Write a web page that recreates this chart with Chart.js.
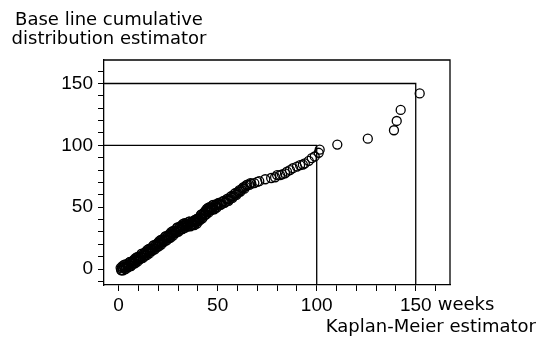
<!DOCTYPE html>
<html>
<head>
<meta charset="utf-8">
<script src="https://cdn.jsdelivr.net/npm/chart.js@4.4.1/dist/chart.umd.min.js"></script>
<style>
  html, body { margin: 0; padding: 0; background: #fff; }
  #wrap { width: 554px; height: 343px; }
</style>
</head>
<body>
<div id="wrap"><canvas id="kmChart" width="554" height="343"></canvas></div>
<script>
// Kaplan-Meier estimate (weeks) vs. base line cumulative distribution estimate
const kmWeeks = [
  1, 1.5, 2, 2.5, 3, 3.5, 4, 4.5, 5, 5.5, 6, 6.5, 7, 7.5, 8, 8.5, 9, 9.5, 10, 10.5,
  11, 11.5, 12, 12.5, 13, 13.5, 14, 14.5, 15, 15.5, 16, 16.5, 17, 17.5, 18, 18.5, 19, 19.5, 20, 20.5,
  21, 21.5, 22, 22.5, 23, 23.5, 24, 24.5, 25, 25.5, 26, 26.5, 27, 27.5, 28, 28.5, 29, 29.5, 30, 30.5,
  31, 31.5, 32, 32.5, 33, 33.5, 34, 34.5, 35, 35.5, 36, 36.5, 37, 37.5, 38, 38.5, 39, 39.5, 40, 40.5,
  41, 41.5, 42, 42.5, 43, 43.5, 44, 44.5, 45, 45.5, 46, 46.5, 47, 47.5, 48, 48.5, 49, 49.5, 50,
  51, 52, 53, 54, 55, 56, 57, 58, 59, 60, 61, 62, 63, 64, 65, 66, 67, 68.5, 70,
  71, 74, 77, 79, 80, 81.5, 82.5, 84, 85, 86.5, 88, 90, 91.6, 93, 94, 96, 97.5, 99, 101, 101.5,
  110.4, 125.8, 139, 140.4, 142.4, 152,
  1.25, 1.75, 2.25, 2.75, 3.25, 3.75, 4.25, 4.75, 5.25, 5.75, 6.25, 6.75, 7.25, 7.75, 8.25, 8.75,
  9.25, 9.75, 10.25, 10.75, 11.25, 11.75, 12.25, 12.75, 13.25, 13.75, 14.25, 14.75, 15.25, 15.75,
  16.25, 16.75, 17.25, 17.75, 18.25, 18.75, 19.25, 19.75, 20.25, 20.75, 21.25, 21.75, 22.25, 22.75,
  23.25, 23.75, 24.25, 24.75, 25.25, 25.75, 26.25, 26.75, 27.25, 27.75, 28.25, 28.75, 29.25, 29.75,
  30.25, 30.75, 31.25, 31.75, 32.25, 32.75, 33.25, 33.75, 34.25, 34.75, 35.25, 35.75, 36.25, 36.75,
  37.25, 37.75, 38.25, 38.75, 39.25, 39.75, 40.25, 40.75, 41.25, 41.75, 42.25, 42.75, 43.25, 43.75,
  44.25, 44.75, 45.25, 45.75, 46.25, 46.75, 47.25, 47.75, 48.25, 48.75, 49.25, 49.75,
  50.5, 51.5, 52.5, 53.5, 54.5, 55.5, 56.5, 57.5, 58.5, 59.5, 60.5, 61.5, 62.5, 63.5, 64.5, 66.5
];
const baselineCum = [
  1, -1, 1.3, 3.1, 1, 0, 3.8, 2.6, 2, 5.6, 2.6, 5.2, 6.2, 4.3, 6.8, 8.9, 6.9, 6, 10, 9.1,
  8.6, 12.2, 9.2, 11.8, 12.8, 10.9, 13.4, 15.5, 13.5, 12.6, 16.7, 15.8, 15.4, 19, 16.1, 18.7, 19.8, 17.9, 20.5, 22.6,
  20.7, 19.8, 23.9, 23, 22.6, 26.2, 23.3, 25.9, 27, 25.1, 27.7, 29.8, 27.9, 27, 31.1, 30.2, 29.8, 33.4, 30.5, 33,
  34, 32, 34.5, 36.5, 34.5, 33.3, 37, 35.8, 35, 38.3, 35, 37.3, 38, 35.8, 38, 39.8, 37.5, 36.8, 41, 40.3,
  40, 43.8, 41, 43.9, 45.3, 43.6, 46.5, 48.6, 46.8, 45.9, 50, 48.9, 48.3, 51.6, 48.5, 50.9, 51.8, 49.6, 52,
  53, 52.5, 55, 54.3, 57, 56.6, 59.2, 59, 61.5, 61.3, 63.8, 64, 66.2, 66.7, 68.3, 68, 69, 69.5, 70.5,
  71, 72.6, 73.6, 74.2, 76, 76, 76.5, 77.4, 78.7, 80, 81.5, 82.8, 84, 84.5, 85.5, 87.5, 89.6, 91, 94, 96.5,
  100.6, 105.4, 112.2, 119.7, 128.6, 142,
  -0.8, 2.1, -1, 1.8, 3.7, 1.6, 3.4, 1.3, 3.3, 5.8, 2.4, 5.9, 4.5, 7.5, 4.6, 7.6,
  9.7, 7.7, 9.8, 7.8, 9.9, 12.4, 9, 12.5, 11.1, 14.1, 11.2, 14.2, 16.3, 14.4,
  16.5, 14.6, 16.7, 19.3, 15.9, 19.5, 18.1, 21.2, 18.3, 21.4, 23.5, 21.6, 23.7, 21.8,
  23.9, 26.5, 23.1, 26.7, 25.3, 28.4, 25.5, 28.6, 30.7, 28.8, 30.9, 29, 31.1, 33.7,
  30.3, 33.8, 32.3, 35.3, 32.3, 35.3, 37.1, 34.9, 36.6, 34.4, 36.1, 38.4, 34.6, 37.9,
  36.1, 38.9, 35.6, 38.4, 40.4, 38.6, 40.9, 39.1, 41.4, 44.1, 40.9, 44.8, 43.7, 47.1,
  44.3, 47.4, 49.6, 47.7, 49.7, 47.6, 49.4, 51.8, 48.2, 51.6, 50, 52.8,
  53.5, 51.8, 54.7, 53.6, 56.3, 55.2, 58.4, 57.6, 60.8, 60, 62.5, 62.6, 65.3, 65, 67.9, 69.5
];
const refLevels = [100, 150];
const xLabelValues = [0, 50, 100, 150];
const yLabelValues = [0, 50, 100, 150];

const X_MIN = -7.4, X_MAX = 167.3;
const Y_MIN = -12.9, Y_MAX = 169;
const FONT = '"Liberation Sans", Arial, sans-serif';
const TITLE_FONT = '"DejaVu Sans", sans-serif';

const points = kmWeeks.map((w, i) => ({ x: w, y: baselineCum[i] }));

// reference lines: horizontal from the left frame to the level, then down to the bottom
const refSets = refLevels.map(v => ({
    type: 'line',
    data: [{ x: X_MIN, y: v }, { x: v, y: v }, { x: v, y: Y_MIN }],
    borderColor: '#000',
    borderWidth: 1.3,
    pointRadius: 0,
    fill: false,
    tension: 0
}));

const framePlugin = {
    id: 'frame',
    afterDraw(chart) {
        const { ctx, chartArea: a, scales } = chart;
        ctx.save();
        ctx.strokeStyle = '#000';
        ctx.lineWidth = 1.3;
        ctx.beginPath();
        ctx.moveTo(a.left, a.top);
        ctx.lineTo(a.right, a.top);
        ctx.lineTo(a.right, a.bottom);
        ctx.stroke();

        ctx.fillStyle = '#000';
        ctx.font = '18px ' + TITLE_FONT;
        ctx.textBaseline = 'alphabetic';
        ctx.textAlign = 'center';
        ctx.fillText('Base line cumulative', 109, 25);
        ctx.fillText('distribution estimator', 109, 44);

        ctx.textAlign = 'left';
        ctx.fillText('weeks', scales.x.getPixelForValue(150) + 22, 310);
        ctx.textAlign = 'right';
        ctx.fillText('Kaplan-Meier estimator', 536, 332);
        ctx.restore();
    }
};

const ctx = document.getElementById('kmChart').getContext('2d');
new Chart(ctx, {
    type: 'scatter',
    data: {
        datasets: [{
            label: 'estimates',
            data: points,
            pointRadius: 4.5,
            pointHoverRadius: 4.5,
            pointBorderWidth: 1.3,
            borderColor: '#000',
            backgroundColor: 'rgba(0,0,0,0)'
        }, ...refSets]
    },
    options: {
        responsive: false,
        devicePixelRatio: 1,
        animation: false,
        layout: { padding: { left: 0, top: 60, right: 104, bottom: 0 } },
        scales: {
            x: {
                type: 'linear',
                min: X_MIN,
                max: X_MAX,
                afterFit: (scale) => { scale.height = 58; },
                border: { display: true, color: '#000', width: 1.3 },
                grid: { drawOnChartArea: false, drawTicks: true, tickLength: 6, color: '#000', lineWidth: 1 },
                ticks: {
                    stepSize: 10,
                    includeBounds: false,
                    autoSkip: false,
                    maxRotation: 0,
                    padding: 3,
                    color: '#000',
                    font: { family: FONT, size: 19 },
                    callback: (v) => xLabelValues.includes(v) ? String(v) : ''
                }
            },
            y: {
                type: 'linear',
                min: Y_MIN,
                max: Y_MAX,
                afterFit: (scale) => { scale.width = 104; },
                border: { display: true, color: '#000', width: 1.3 },
                grid: { drawOnChartArea: false, drawTicks: true, tickLength: 6, color: '#000', lineWidth: 1 },
                ticks: {
                    stepSize: 10,
                    includeBounds: false,
                    autoSkip: false,
                    padding: 5,
                    color: '#000',
                    font: { family: FONT, size: 19 },
                    callback: (v) => yLabelValues.includes(v) ? String(v) : ''
                }
            }
        },
        plugins: {
            legend: { display: false },
            tooltip: { enabled: false }
        }
    },
    plugins: [framePlugin]
});
</script>
</body>
</html>
